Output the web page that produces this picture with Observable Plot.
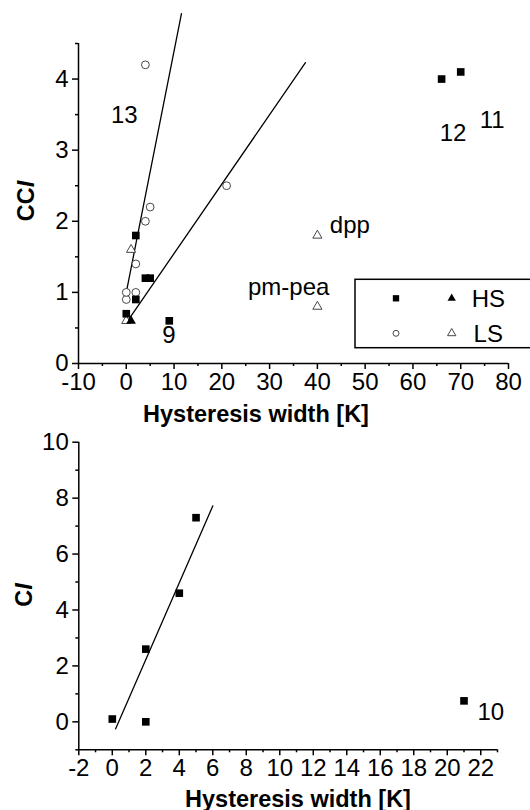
<!DOCTYPE html>
<html><head><meta charset="utf-8">
<script src="https://cdn.jsdelivr.net/npm/d3@7"></script>
<script src="https://cdn.jsdelivr.net/npm/@observablehq/plot@0.6"></script>
<style>
body{margin:0;background:#fff;}
svg{display:block;font-family:"Liberation Sans",Arial,sans-serif;}
</style></head><body><div id="c"></div>
<script>
// ---------- top panel (CCI) ----------
const hsSqX = [0, 2, 2, 4, 5, 9, 66, 70];
const hsSqY = [0.7, 0.9, 1.8, 1.2, 1.2, 0.6, 4.0, 4.1];
const hsTriX = [1];
const hsTriY = [0.6];
const lsCircX = [0, 0, 2, 2, 4, 5, 4, 21];
const lsCircY = [0.9, 1.0, 1.0, 1.4, 2.0, 2.2, 4.2, 2.5];
const lsTriX = [0, 1, 40, 40];
const lsTriY = [0.6, 1.6, 1.8, 0.8];
const fitSteepX = [0, 11.55];
const fitSteepY = [1.0, 4.92];
const fitShallowX = [0.3, 37.5];
const fitShallowY = [0.6, 4.23];
const topLabels = ["13", "9", "12", "11", "dpp", "pm-pea"];
const topLabelX = [-0.4, 8.9, 68.4, 76.6, 42.6, 42.5];
const topLabelY = [3.49, 0.39, 3.24, 3.42, 1.94, 1.07];
const topLabelAnchor = ["middle", "middle", "middle", "middle", "start", "end"];
const topXTicks = [-10, 0, 10, 20, 30, 40, 50, 60, 70, 80];
const topXMinor = [-5, 5, 15, 25, 35, 45, 55, 65, 75];
const topYTicks = [0, 1, 2, 3, 4];
const topYMinor = [0.5, 1.5, 2.5, 3.5, 4.5];
const legendNames = ["HS", "LS"];

// ---------- bottom panel (CI) ----------
const ciX = [0, 2, 2, 4, 5, 21];
const ciY = [0.1, 0.0, 2.6, 4.6, 7.3, 0.75];
const fitCiX = [0.2, 6.0];
const fitCiY = [-0.25, 7.72];
const botLabels = ["10"];
const botLabelX = [21.8];
const botLabelY = [0.33];
const botXTicks = [-2, 0, 2, 4, 6, 8, 10, 12, 14, 16, 18, 20, 22];
const botXMinor = [-1, 1, 3, 5, 7, 9, 11, 13, 15, 17, 19, 21, 23];
const botYTicks = [0, 2, 4, 6, 8, 10];
const botYMinor = [-1, 1, 3, 5, 7, 9];

const xTitle = "Hysteresis width [K]";

const pts = (xs, ys) => xs.map((x, i) => ({x, y: ys[i]}));
const fmt = d => String(d);
const axisStyle = {fontSize: 24, tickSize: 6, strokeWidth: 1.5, label: null, tickFormat: fmt};

function axes(xT, xM, yT, yM, xd, yd) {
  return [
    Plot.ruleY([yd[0]], {stroke: "black", strokeWidth: 1.5}),
    Plot.ruleX([xd[0]], {y1: yd[0], y2: yd[1], stroke: "black", strokeWidth: 1.5}),
    Plot.axisX({...axisStyle, ticks: xT, tickPadding: 3}),
    Plot.axisX({...axisStyle, ticks: xM, tickSize: 3, tickFormat: () => ""}),
    Plot.axisY({...axisStyle, ticks: yT, tickPadding: 4}),
    Plot.axisY({...axisStyle, ticks: yM, tickSize: 3, tickFormat: () => ""})
  ];
}

const topX = [-10, 80], topY = [0, 4.5];
const topPlot = Plot.plot({
  width: 530, height: 430,
  marginLeft: 78, marginRight: 22, marginTop: 43, marginBottom: 67,
  x: {domain: topX}, y: {domain: topY},
  style: {fontFamily: "Liberation Sans, Arial, sans-serif", color: "black", background: "white", overflow: "visible"},
  marks: [
    ...axes(topXTicks, topXMinor, topYTicks, topYMinor, topX, topY),
    Plot.line(pts(fitSteepX, fitSteepY), {x: "x", y: "y", stroke: "black", strokeWidth: 1.3}),
    Plot.line(pts(fitShallowX, fitShallowY), {x: "x", y: "y", stroke: "black", strokeWidth: 1.3}),
    Plot.dot(pts(lsCircX, lsCircY), {x: "x", y: "y", symbol: "circle", r: 3.9, stroke: "#333", strokeWidth: 0.9, fill: "white"}),
    Plot.dot(pts(lsTriX, lsTriY), {x: "x", y: "y", symbol: "triangle", r: 3.4, stroke: "#333", strokeWidth: 0.9, fill: "white"}),
    Plot.dot(pts(hsSqX, hsSqY), {x: "x", y: "y", symbol: "square", r: 4.3, fill: "black", stroke: "none"}),
    Plot.dot(pts(hsTriX, hsTriY), {x: "x", y: "y", symbol: "triangle", r: 3.6, fill: "black", stroke: "none"}),
    Plot.text(topLabels.map((t, i) => ({t, x: topLabelX[i], y: topLabelY[i], a: topLabelAnchor[i]})).filter(d => d.a === "middle"),
      {x: "x", y: "y", text: "t", fontSize: 24, textAnchor: "middle", lineAnchor: "middle", fill: "black"}),
    Plot.text(topLabels.map((t, i) => ({t, x: topLabelX[i], y: topLabelY[i], a: topLabelAnchor[i]})).filter(d => d.a === "start"),
      {x: "x", y: "y", text: "t", fontSize: 24, textAnchor: "start", lineAnchor: "middle", fill: "black"}),
    Plot.text(topLabels.map((t, i) => ({t, x: topLabelX[i], y: topLabelY[i], a: topLabelAnchor[i]})).filter(d => d.a === "end"),
      {x: "x", y: "y", text: "t", fontSize: 24, textAnchor: "end", lineAnchor: "middle", fill: "black"})
  ]
});

const botX = [-2, 23], botY = [-1, 10];
const botPlot = Plot.plot({
  width: 530, height: 380,
  marginLeft: 78.3, marginRight: 33, marginTop: 11.7, marginBottom: 60.7,
  x: {domain: botX}, y: {domain: botY},
  style: {fontFamily: "Liberation Sans, Arial, sans-serif", color: "black", background: "white", overflow: "visible"},
  marks: [
    ...axes(botXTicks, botXMinor, botYTicks, botYMinor, botX, botY),
    Plot.line(pts(fitCiX, fitCiY), {x: "x", y: "y", stroke: "black", strokeWidth: 1.3}),
    Plot.dot(pts(ciX, ciY), {x: "x", y: "y", symbol: "square", r: 4.3, fill: "black", stroke: "none"}),
    Plot.text(botLabels.map((t, i) => ({t, x: botLabelX[i], y: botLabelY[i]})),
      {x: "x", y: "y", text: "t", fontSize: 24, textAnchor: "start", lineAnchor: "middle", fill: "black"})
  ]
});

const c = document.getElementById("c");
c.appendChild(topPlot);
c.appendChild(botPlot);

// axis titles (mixed upright / italic)
function titles(svg, xt, yt, yPlain, yItal) {
  const s = d3.select(svg);
  s.append("text").attr("x", xt[0]).attr("y", xt[1]).attr("text-anchor", "middle")
    .attr("font-size", 23.5).attr("font-weight", "bold").attr("fill", "black").text(xTitle);
  const t = s.append("text").attr("transform", `translate(${yt[0]},${yt[1]}) rotate(-90)`)
    .attr("text-anchor", "middle").attr("font-size", 23.5).attr("font-weight", "bold").attr("fill", "black");
  t.append("tspan").text(yPlain);
  t.append("tspan").attr("font-style", "italic").text(yItal);
}
titles(topPlot, [256, 421.5], [33.5, 201], "CC", "I");
titles(botPlot, [298, 376.5], [31.5, 165], "C", "I");

// legend
const lg = d3.select(topPlot).append("g");
lg.append("rect").attr("x", 355).attr("y", 279.3).attr("width", 200).attr("height", 68.4)
  .attr("fill", "white").attr("stroke", "black").attr("stroke-width", 1.5);
const sym = (type, size) => d3.symbol().type(type).size(size)();
const rows = [298.3, 333.3];
lg.append("path").attr("d", sym(d3.symbolSquare, 40)).attr("transform", `translate(396,${rows[0]})`).attr("fill", "black");
lg.append("path").attr("d", sym(d3.symbolTriangle, 30)).attr("transform", `translate(451.7,${rows[0]})`).attr("fill", "black");
lg.append("path").attr("d", sym(d3.symbolCircle, 28)).attr("transform", `translate(396,${rows[1]})`).attr("fill", "white").attr("stroke", "#333").attr("stroke-width", 0.9);
lg.append("path").attr("d", sym(d3.symbolTriangle, 30)).attr("transform", `translate(451.7,${rows[1]})`).attr("fill", "white").attr("stroke", "#333").attr("stroke-width", 0.9);
legendNames.forEach((n, i) => {
  lg.append("text").attr("x", 488.3).attr("y", rows[i] + 8.5).attr("font-size", 24).attr("fill", "black").text(n);
});
</script></body></html>
